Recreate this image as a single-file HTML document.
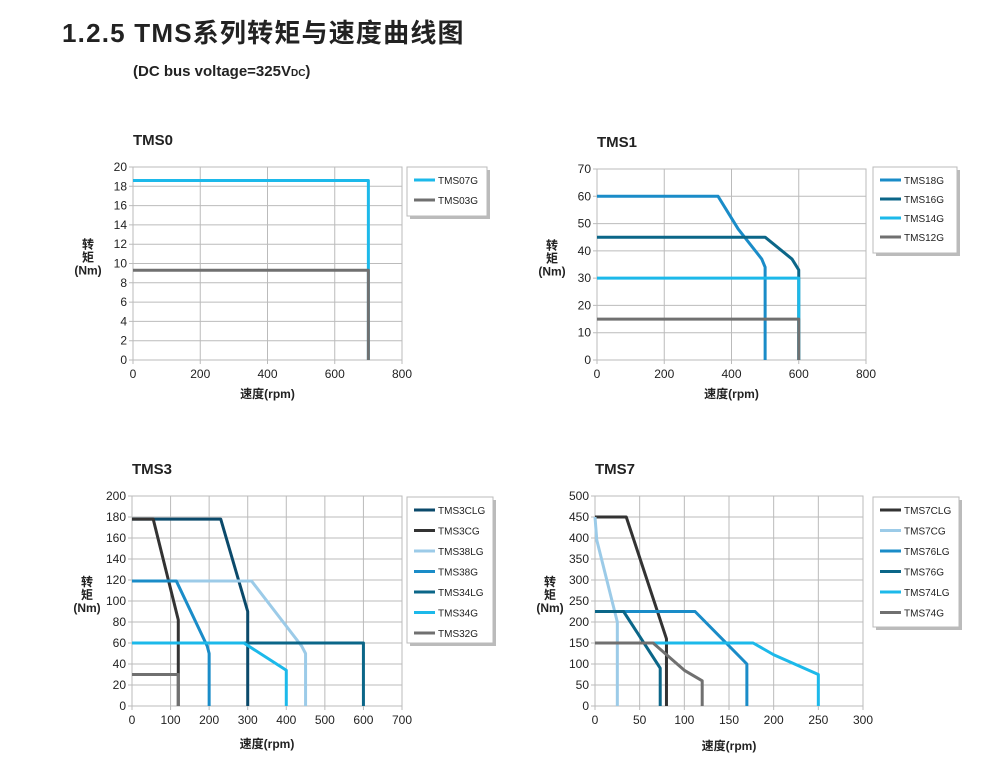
<!DOCTYPE html>
<html><head><meta charset="utf-8"><style>
body{margin:0;background:#fff;width:1006px;height:779px;overflow:hidden}
svg{display:block;font-family:"Liberation Sans","Noto Sans CJK SC",sans-serif}
</style></head><body>
<svg id="s" width="1006" height="779" xmlns="http://www.w3.org/2000/svg">
<text x="62" y="42" font-size="26" font-weight="bold" fill="#222" letter-spacing="1.2">1.2.5  TMS系列转矩与速度曲线图</text>
<text x="133" y="76" font-size="15" font-weight="bold" fill="#222">(DC bus voltage=325V<tspan font-size="10">DC</tspan>)</text>
</svg>
<script>
const S=document.getElementById('s');let h='';
const C={cy:'#1cb9ea',gr:'#707070',dk:'#333333',db:'#0b4a6b',te:'#0b6688',bl:'#1a8cc8',lt:'#9ccbe8'};
function chart(o){
 const {x0,x1,y0,y1,xmax,ymax,xs,ys,title,series,lg}=o;
 const X=v=>x0+(x1-x0)*v/xmax, Y=v=>y1-(y1-y0)*v/ymax;
 h+=`<text x="${x0}" y="${y0-22}" font-size="15" font-weight="bold" fill="#222">${title}</text>`;
 h+=`<rect x="${x0}" y="${y0}" width="${x1-x0}" height="${y1-y0}" fill="#fff" stroke="#bbb"/>`;
 for(let v=0;v<=xmax;v+=xs){h+=`<line x1="${X(v)}" x2="${X(v)}" y1="${y0}" y2="${y1+4}" stroke="#bbb"/>`;
  h+=`<text x="${X(v)}" y="${y1+18}" font-size="12" text-anchor="middle" fill="#222">${v}</text>`;}
 for(let v=0;v<=ymax;v+=ys){h+=`<line x1="${x0-4}" x2="${x1}" y1="${Y(v)}" y2="${Y(v)}" stroke="#bbb"/>`;
  h+=`<text x="${x0-6}" y="${Y(v)+4}" font-size="12" text-anchor="end" fill="#222">${v}</text>`;}
 for(const s of series){h+=`<polyline fill="none" stroke="${C[s[1]]}" stroke-width="3" stroke-linejoin="round" points="${s[2].map(p=>X(p[0])+','+Y(p[1])).join(' ')}"/>`;}
 const ym=(y0+y1)/2;
 h+=`<text x="${x0-45}" y="${ym-15}" font-size="12" font-weight="bold" text-anchor="middle" fill="#222">转</text><text x="${x0-45}" y="${ym-2}" font-size="12" font-weight="bold" text-anchor="middle" fill="#222">矩</text><text x="${x0-45}" y="${ym+11}" font-size="12" font-weight="bold" text-anchor="middle" fill="#222">(Nm)</text>`;
 h+=`<text x="${(x0+x1)/2}" y="${o.xl}" font-size="12" font-weight="bold" text-anchor="middle" fill="#222">速度(rpm)</text>`;
 const [lx,ly,lw,lh,step]=lg;
 h+=`<rect x="${lx+3}" y="${ly+3}" width="${lw}" height="${lh}" fill="#bbb"/><rect x="${lx}" y="${ly}" width="${lw}" height="${lh}" fill="#fff" stroke="#bbb"/>`;
 series.forEach((s,i)=>{const yy=ly+13+i*step;h+=`<line x1="${lx+7}" x2="${lx+28}" y1="${yy}" y2="${yy}" stroke="${C[s[1]]}" stroke-width="3"/><text x="${lx+31}" y="${yy+4}" font-size="10" fill="#222">${s[0]}</text>`;});
}
chart({x0:133,x1:402,y0:167,y1:360,xmax:800,ymax:20,xs:200,ys:2,title:'TMS0',xl:398,lg:[407,167,80,49,20],
series:[['TMS07G','cy',[[0,18.6],[700,18.6],[700,0]]],['TMS03G','gr',[[0,9.3],[700,9.3],[700,0]]]]});
chart({x0:597,x1:866,y0:169,y1:360,xmax:800,ymax:70,xs:200,ys:10,title:'TMS1',xl:398,lg:[873,167,84,86,19],
series:[['TMS18G','bl',[[0,60],[360,60],[420,48],[490,37],[500,34],[500,0]]],['TMS16G','te',[[0,45],[500,45],[580,37],[600,33],[600,0]]],['TMS14G','cy',[[0,30],[600,30],[600,0]]],['TMS12G','gr',[[0,15],[600,15],[600,0]]]]});
chart({x0:132,x1:402,y0:496,y1:706,xmax:700,ymax:200,xs:100,ys:20,title:'TMS3',xl:748,lg:[407,497,86,146,20.5],
series:[['TMS3CLG','db',[[0,178],[230,178],[300,90],[300,0]]],['TMS3CG','dk',[[0,178],[55,178],[120,82],[120,0]]],['TMS38LG','lt',[[0,119],[310,119],[440,57],[450,50],[450,0]]],['TMS38G','bl',[[0,119],[115,119],[195,57],[200,50],[200,0]]],['TMS34LG','te',[[0,60],[600,60],[600,0]]],['TMS34G','cy',[[0,60],[290,60],[400,34],[400,0]]],['TMS32G','gr',[[0,30],[120,30],[120,0]]]]});
chart({x0:595,x1:863,y0:496,y1:706,xmax:300,ymax:500,xs:50,ys:50,title:'TMS7',xl:750,lg:[873,497,86,130,20.5],
series:[['TMS7CLG','dk',[[0,450],[35,450],[80,160],[80,0]]],['TMS7CG','lt',[[0,450],[2,395],[25,200],[25,0]]],['TMS76LG','bl',[[0,225],[112,225],[170,100],[170,0]]],['TMS76G','te',[[0,225],[32,225],[70,100],[73,90],[73,0]]],['TMS74LG','cy',[[0,150],[177,150],[200,122],[250,75],[250,0]]],['TMS74G','gr',[[0,150],[65,150],[100,85],[120,60],[120,0]]]]});
S.insertAdjacentHTML('beforeend',h);
</script>
</body></html>
